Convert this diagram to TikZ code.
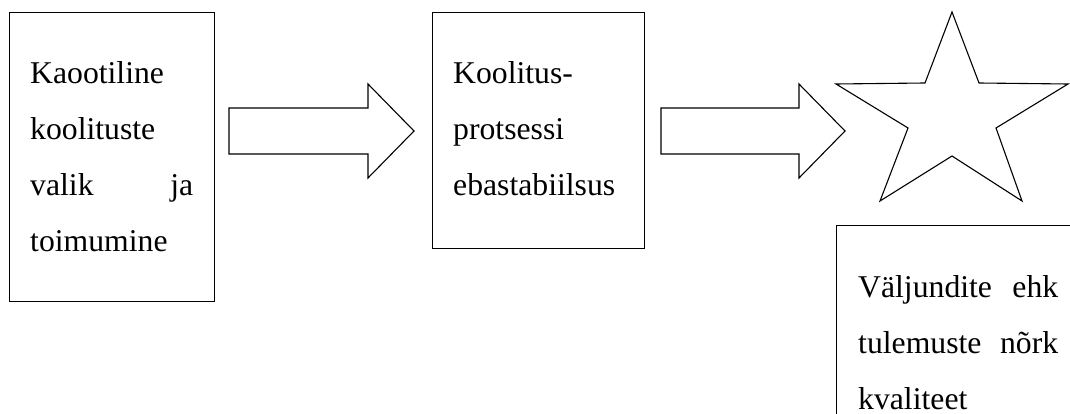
\documentclass[tikz,border=0pt]{standalone}
\usepackage{fontspec}
\setmainfont{Liberation Serif}
\begin{document}
\begin{tikzpicture}[x=1pt,y=-1pt,
  box/.style={draw=black,line width=1.1pt,anchor=north west,inner sep=0pt},
  outline/.style={draw=black,line width=1.1pt,line join=miter},
  txt/.style={anchor=north west,inner sep=0pt,align=left,font=\fontsize{31.7}{56}\selectfont}]
\useasboundingbox (0,0) rectangle (1070,414);
% boxes
\node[box,minimum width=205pt,minimum height=289pt] (b1) at (9,12) {};
\node[box,minimum width=212pt,minimum height=236pt] (b2) at (432,12) {};
\node[box,minimum width=260pt,minimum height=220pt] (b3) at (836,225) {};
% texts
\node[txt,text width=163pt] (t1) at (30,61.5) {Kaootiline\\koolituste\\valik\hfill ja\\toimumine};
\node[txt,text width=170pt] (t2) at (453,61.5) {Koolitus-\\protsessi\\ebastabiilsus};
\node[txt,text width=200pt] (t3) at (858,275.5) {Väljundite\hfill ehk\\tulemuste\hfill nõrk\\kvaliteet};
% block arrows
\coordinate (a1) at (229,108);
\draw[outline] (a1) -- (368,108) -- (368,84) -- (414,131) -- (368,178) -- (368,154) -- (229,154) -- cycle;
\coordinate (a2) at (661,108);
\draw[outline] (a2) -- (799,108) -- (799,84) -- (845,131) -- (799,178) -- (799,154) -- (661,154) -- cycle;
% star
\coordinate (s) at (952,12);
\draw[outline] (s) -- (979,83) -- (1068,84) -- (996,128) -- (1022,201) -- (952,156)
  -- (880,201) -- (908,128) -- (836,84) -- (925,83) -- cycle;
\end{tikzpicture}
\end{document}
